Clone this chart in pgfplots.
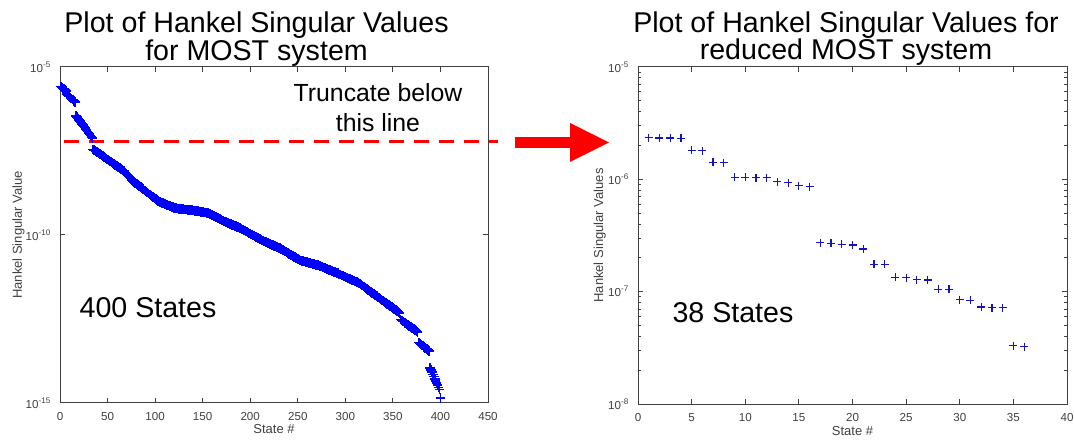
\documentclass[border=0pt]{standalone}
\usepackage{fontspec}
\setmainfont{Liberation Sans}
\usepackage{pgfplots}
\pgfplotsset{compat=1.18}

\definecolor{axgray}{gray}{0.25}
\definecolor{hsvblue}{RGB}{0,0,255}
\definecolor{redblue}{RGB}{20,20,190}

% MATLAB-like figure style, 1px = 0.5pt
\pgfplotsset{
  matfig/.style={
    scale only axis,
    anchor=south west,
    axis line style={axgray, line width=0.5pt},
    every tick/.style={axgray, line width=0.5pt},
    major tick length=2.5pt,
    minor tick length=1.5pt,
    tick align=inside,
    tick label style={font=\fontsize{5.8}{7}\selectfont, text=axgray},
    xticklabel style={yshift=-1.2pt},
    yticklabel style={xshift=-0.8pt},
    /pgf/number format/assume math mode=true,
  }
}

\begin{document}
\begin{tikzpicture}
\path[use as bounding box] (0pt,0pt) rectangle (537pt,221pt);

% ---- full system (400 states), y holds log10 of the value
\begin{axis}[matfig,
  at={(30pt,19.5pt)}, width=214pt, height=168pt,
  xmin=0, xmax=450, ymin=-15, ymax=-5,
  xtick={0,50,...,450},
  ytick={-15,-10,-5},
  yticklabels={10\textsuperscript{-15},10\textsuperscript{-10},10\textsuperscript{-5}},
  xlabel={State \#},
  ylabel={Hankel Singular Value},
  every axis x label/.style={at={(axis description cs:0.5,-0.092)}, anchor=base, font=\fontsize{6.5}{8}\selectfont, text=axgray},
  every axis y label/.style={at={(axis description cs:-0.0888,0.5)}, rotate=90, anchor=base, font=\fontsize{6.5}{8}\selectfont, text=axgray},
  clip=false]
\addplot[only marks, mark=+, mark size=2.4pt, hsvblue, mark options={line width=0.8pt}] coordinates {
(1,-5.58) (2,-5.61) (3,-5.64) (4,-5.66) (5,-5.69) (6,-5.72) (7,-5.80) (8,-5.83) (9,-5.86) (10,-5.88)
(11,-5.91) (12,-5.94) (13,-5.97) (14,-5.99) (15,-6.02) (16,-6.05) (17,-6.45) (18,-6.49) (19,-6.53) (20,-6.57)
(21,-6.61) (22,-6.65) (23,-6.69) (24,-6.73) (25,-6.77) (26,-6.80) (27,-6.84) (28,-6.88) (29,-6.92) (30,-6.96)
(31,-7.00) (32,-7.04) (33,-7.08) (34,-7.12) (35,-7.45) (36,-7.47) (37,-7.49) (38,-7.51) (39,-7.53) (40,-7.55)
(41,-7.57) (42,-7.59) (43,-7.61) (44,-7.63) (45,-7.65) (46,-7.67) (47,-7.69) (48,-7.71) (49,-7.73) (50,-7.75)
(51,-7.77) (52,-7.79) (53,-7.81) (54,-7.83) (55,-7.85) (56,-7.87) (57,-7.89) (58,-7.91) (59,-7.93) (60,-7.95)
(61,-7.97) (62,-7.99) (63,-8.01) (64,-8.03) (65,-8.05) (66,-8.08) (67,-8.10) (68,-8.12) (69,-8.15) (70,-8.18)
(71,-8.21) (72,-8.24) (73,-8.28) (74,-8.31) (75,-8.34) (76,-8.37) (77,-8.40) (78,-8.42) (79,-8.45) (80,-8.47)
(81,-8.49) (82,-8.52) (83,-8.54) (84,-8.56) (85,-8.58) (86,-8.61) (87,-8.63) (88,-8.65) (89,-8.68) (90,-8.70)
(91,-8.72) (92,-8.74) (93,-8.76) (94,-8.79) (95,-8.81) (96,-8.83) (97,-8.85) (98,-8.87) (99,-8.89) (100,-8.91)
(101,-8.93) (102,-8.96) (103,-8.98) (104,-9.00) (105,-9.02) (106,-9.03) (107,-9.04) (108,-9.05) (109,-9.06) (110,-9.07)
(111,-9.08) (112,-9.10) (113,-9.11) (114,-9.12) (115,-9.13) (116,-9.14) (117,-9.15) (118,-9.16) (119,-9.17) (120,-9.19)
(121,-9.20) (122,-9.20) (123,-9.21) (124,-9.21) (125,-9.22) (126,-9.22) (127,-9.22) (128,-9.23) (129,-9.23) (130,-9.23)
(131,-9.24) (132,-9.24) (133,-9.24) (134,-9.25) (135,-9.25) (136,-9.25) (137,-9.26) (138,-9.26) (139,-9.26) (140,-9.27)
(141,-9.27) (142,-9.28) (143,-9.28) (144,-9.29) (145,-9.29) (146,-9.30) (147,-9.30) (148,-9.31) (149,-9.31) (150,-9.32)
(151,-9.32) (152,-9.33) (153,-9.33) (154,-9.34) (155,-9.34) (156,-9.35) (157,-9.36) (158,-9.38) (159,-9.39) (160,-9.41)
(161,-9.42) (162,-9.44) (163,-9.45) (164,-9.47) (165,-9.48) (166,-9.50) (167,-9.51) (168,-9.53) (169,-9.54) (170,-9.56)
(171,-9.57) (172,-9.59) (173,-9.60) (174,-9.61) (175,-9.62) (176,-9.64) (177,-9.65) (178,-9.66) (179,-9.67) (180,-9.68)
(181,-9.70) (182,-9.71) (183,-9.72) (184,-9.73) (185,-9.74) (186,-9.76) (187,-9.77) (188,-9.78) (189,-9.79) (190,-9.81)
(191,-9.82) (192,-9.84) (193,-9.85) (194,-9.87) (195,-9.88) (196,-9.90) (197,-9.91) (198,-9.93) (199,-9.95) (200,-9.96)
(201,-9.98) (202,-9.99) (203,-10.01) (204,-10.02) (205,-10.04) (206,-10.06) (207,-10.07) (208,-10.09) (209,-10.10) (210,-10.12)
(211,-10.13) (212,-10.15) (213,-10.16) (214,-10.18) (215,-10.19) (216,-10.20) (217,-10.21) (218,-10.23) (219,-10.24) (220,-10.25)
(221,-10.27) (222,-10.28) (223,-10.29) (224,-10.30) (225,-10.32) (226,-10.33) (227,-10.34) (228,-10.36) (229,-10.37) (230,-10.38)
(231,-10.39) (232,-10.41) (233,-10.42) (234,-10.44) (235,-10.45) (236,-10.47) (237,-10.49) (238,-10.51) (239,-10.52) (240,-10.54)
(241,-10.56) (242,-10.58) (243,-10.59) (244,-10.61) (245,-10.63) (246,-10.65) (247,-10.66) (248,-10.68) (249,-10.70) (250,-10.72)
(251,-10.73) (252,-10.75) (253,-10.76) (254,-10.77) (255,-10.77) (256,-10.78) (257,-10.79) (258,-10.80) (259,-10.81) (260,-10.81)
(261,-10.82) (262,-10.83) (263,-10.84) (264,-10.85) (265,-10.85) (266,-10.86) (267,-10.87) (268,-10.88) (269,-10.89) (270,-10.89)
(271,-10.90) (272,-10.91) (273,-10.92) (274,-10.93) (275,-10.94) (276,-10.96) (277,-10.97) (278,-10.98) (279,-10.99) (280,-11.00)
(281,-11.02) (282,-11.03) (283,-11.04) (284,-11.05) (285,-11.06) (286,-11.07) (287,-11.09) (288,-11.10) (289,-11.11) (290,-11.12)
(291,-11.13) (292,-11.14) (293,-11.16) (294,-11.17) (295,-11.18) (296,-11.20) (297,-11.21) (298,-11.22) (299,-11.23) (300,-11.25)
(301,-11.26) (302,-11.27) (303,-11.29) (304,-11.30) (305,-11.31) (306,-11.32) (307,-11.34) (308,-11.35) (309,-11.36) (310,-11.38)
(311,-11.39) (312,-11.40) (313,-11.41) (314,-11.43) (315,-11.44) (316,-11.46) (317,-11.48) (318,-11.50) (319,-11.53) (320,-11.55)
(321,-11.57) (322,-11.59) (323,-11.61) (324,-11.63) (325,-11.65) (326,-11.68) (327,-11.70) (328,-11.72) (329,-11.74) (330,-11.76)
(331,-11.78) (332,-11.80) (333,-11.82) (334,-11.84) (335,-11.86) (336,-11.88) (337,-11.91) (338,-11.93) (339,-11.95) (340,-11.97)
(341,-11.99) (342,-12.01) (343,-12.03) (344,-12.05) (345,-12.07) (346,-12.09) (347,-12.11) (348,-12.13) (349,-12.15) (350,-12.17)
(351,-12.20) (352,-12.22) (353,-12.24) (354,-12.26) (355,-12.28) (356,-12.30) (357,-12.32) (358,-12.52) (359,-12.54) (360,-12.56)
(361,-12.58) (362,-12.60) (363,-12.62) (364,-12.64) (365,-12.66) (366,-12.68) (367,-12.70) (368,-12.72) (369,-12.74) (370,-12.76)
(371,-12.78) (372,-12.80) (373,-12.82) (374,-12.84) (375,-12.86) (376,-12.88) (377,-13.20) (378,-13.22) (379,-13.25) (380,-13.27)
(381,-13.29) (382,-13.31) (383,-13.34) (384,-13.36) (385,-13.38) (386,-13.40) (387,-13.43) (388,-13.45) (389,-13.95) (390,-14.02)
(391,-14.08) (392,-14.15) (393,-14.21) (394,-14.28) (395,-14.34) (396,-14.41) (397,-14.47) (398,-14.54) (399,-14.60) (400,-14.86)
};
% truncation threshold
\addplot[red, line width=1.7pt, dash pattern=on 7.5pt off 5pt] coordinates {(4.2,-7.22) (460,-7.22)};
\end{axis}

% ---- reduced system
\begin{axis}[matfig,
  at={(319pt,19pt)}, width=214.5pt, height=168.5pt,
  xmin=0, xmax=40, ymode=log, ymin=1e-8, ymax=1e-5,
  xtick={0,5,...,40},
  ytick={1e-8,1e-7,1e-6,1e-5},
  yticklabels={10\textsuperscript{-8},10\textsuperscript{-7},10\textsuperscript{-6},10\textsuperscript{-5}},
  minor ytick={2e-8,3e-8,4e-8,5e-8,6e-8,7e-8,8e-8,9e-8,2e-7,3e-7,4e-7,5e-7,6e-7,7e-7,8e-7,9e-7,2e-6,3e-6,4e-6,5e-6,6e-6,7e-6,8e-6,9e-6},
  xlabel={State \#},
  ylabel={Hankel Singular Values},
  every axis x label/.style={at={(axis description cs:0.5,-0.092)}, anchor=base, font=\fontsize{6.5}{8}\selectfont, text=axgray},
  every axis y label/.style={at={(axis description cs:-0.0816,0.5)}, rotate=90, anchor=base, font=\fontsize{6.5}{8}\selectfont, text=axgray}]
\addplot[only marks, mark=+, mark size=2pt, redblue, mark options={line width=0.6pt}] coordinates {
(1,2.34e-6) (2,2.33e-6) (3,2.33e-6) (4,2.32e-6) (5,1.82e-6) (6,1.80e-6) (7,1.42e-6) (8,1.41e-6)
(9,1.04e-6) (10,1.04e-6) (11,1.03e-6) (12,1.03e-6) (13,9.5e-7) (14,9.3e-7) (15,8.8e-7) (16,8.6e-7)
(17,2.72e-7) (18,2.70e-7) (19,2.64e-7) (20,2.60e-7) (21,2.40e-7) (22,1.75e-7) (23,1.75e-7) (24,1.34e-7)
(25,1.33e-7) (26,1.28e-7) (27,1.27e-7) (28,1.05e-7) (29,1.05e-7) (30,8.5e-8) (31,8.4e-8) (32,7.3e-8)
(33,7.2e-8) (34,7.2e-8) (35,3.3e-8) (36,3.25e-8)
};
\end{axis}

% titles and annotations
\node[anchor=base, font=\fontsize{14.3}{17}\selectfont] at (128.25pt,204.5pt) {Plot of Hankel Singular Values};
\node[anchor=base, font=\fontsize{14.3}{17}\selectfont] at (128.25pt,190.5pt) {for MOST system};
\node[anchor=base, font=\fontsize{14.3}{17}\selectfont] at (423pt,204.5pt) {Plot of Hankel Singular Values for};
\node[anchor=base, font=\fontsize{14.3}{17}\selectfont] at (423pt,191pt) {reduced MOST system};
\node[anchor=base, font=\fontsize{12.4}{15}\selectfont] at (189pt,170.15pt) {Truncate below};
\node[anchor=base, font=\fontsize{12.4}{15}\selectfont] at (189pt,155.15pt) {this line};
\node[anchor=base, font=\fontsize{14.3}{17}\selectfont] at (74pt,62.35pt) {400 States};
\node[anchor=base, font=\fontsize{14.3}{17}\selectfont] at (366.5pt,59.65pt) {38 States};

% arrow to the reduced plot
\fill[red] (257.5pt,147pt) rectangle (286pt,152.5pt);
\fill[red] (285pt,159.5pt) -- (304.5pt,149.75pt) -- (285pt,140pt) -- cycle;
\end{tikzpicture}
\end{document}
